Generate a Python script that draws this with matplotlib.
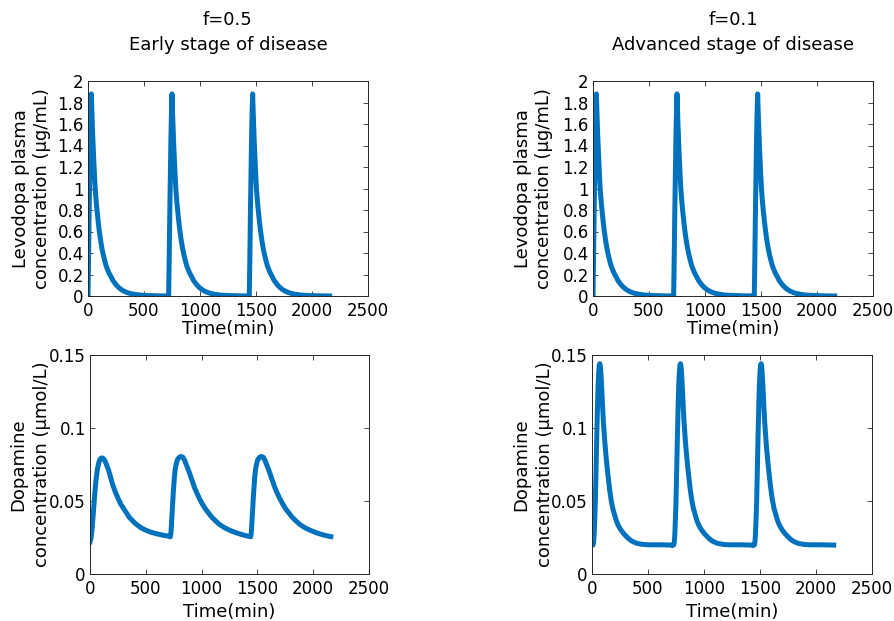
import numpy as np
import matplotlib
matplotlib.use('Agg')
import matplotlib.pyplot as plt

plt.rcParams.update({'font.size': 12})
plt.rcParams['font.family'] = ['DejaVu Sans']

dose_times = [0, 720, 1440]

# levodopa plasma concentration (ug/mL) after one dose, time since dose (min)
levo_rel_t = [0, 5, 10, 15, 20, 25, 30, 35, 40, 45, 50, 57, 64, 72, 80, 90, 100,
              112, 125, 137, 150, 162, 175, 187, 200, 225, 250, 275, 300, 325,
              350, 375, 400, 450, 500, 550, 600, 660, 718]
levo_rel_c = [0, 0.35, 0.75, 1.10, 1.45, 1.70, 1.88, 1.71, 1.56, 1.42, 1.30, 1.14,
              1.00, 0.89, 0.80, 0.70, 0.61, 0.52, 0.44, 0.38, 0.325, 0.28, 0.245,
              0.215, 0.19, 0.14, 0.105, 0.078, 0.058, 0.043, 0.032, 0.024, 0.018,
              0.010, 0.006, 0.004, 0.002, 0.001, 0.0]

# dopamine (umol/L), f=0.5: first dose from rest, then the repeated doses
dopa_early_first_t = [0, 8, 15, 20, 25, 30, 35, 40, 45, 52, 60, 67, 75, 82, 90, 97,
                      105, 112, 120, 130, 140, 152, 165, 180, 200, 225, 250, 275,
                      300, 325, 350, 375, 400, 425, 450, 475, 500, 550, 600, 650,
                      700, 718]
dopa_early_first_c = [0.022, 0.024, 0.028, 0.032, 0.037, 0.042, 0.047, 0.052, 0.057,
                      0.063, 0.068, 0.072, 0.075, 0.077, 0.0785, 0.0792, 0.0795,
                      0.0794, 0.079, 0.078, 0.0765, 0.074, 0.0715, 0.0675, 0.062,
                      0.0565, 0.052, 0.048, 0.045, 0.042, 0.039, 0.037, 0.035,
                      0.0335, 0.032, 0.031, 0.030, 0.0285, 0.0275, 0.0266, 0.026,
                      0.0255]
dopa_early_rel_t = [0, 5, 10, 18, 24, 30, 36, 42, 49, 55, 62, 70, 78, 85, 95, 105,
                    112, 120, 130, 142, 155, 172, 190, 215, 240, 265, 290, 315, 340,
                    365, 390, 415, 440, 465, 490, 540, 590, 640, 690, 718]
dopa_early_rel_c = [0.0255, 0.028, 0.034, 0.045, 0.053, 0.060, 0.066, 0.071, 0.074,
                    0.076, 0.078, 0.079, 0.0798, 0.0802, 0.0805, 0.0802, 0.080,
                    0.079, 0.0775, 0.075, 0.0725, 0.069, 0.065, 0.0595, 0.055,
                    0.051, 0.0475, 0.0445, 0.042, 0.0395, 0.0375, 0.0357, 0.034,
                    0.0327, 0.0315, 0.0297, 0.0282, 0.027, 0.026, 0.0256]

# dopamine (umol/L), f=0.1, time since dose (min)
dopa_adv_rel_t = [0, 10, 15, 20, 25, 30, 35, 40, 45, 50, 55, 60, 65, 70, 75, 80,
                  87, 95, 102, 110, 117, 125, 135, 145, 157, 170, 185, 200, 215,
                  230, 245, 260, 285, 310, 330, 350, 375, 400, 450, 500, 600, 718]
dopa_adv_rel_c = [0.0195, 0.020, 0.022, 0.028, 0.038, 0.050, 0.067, 0.085, 0.102,
                  0.118, 0.130, 0.138, 0.143, 0.144, 0.142, 0.137, 0.127, 0.114,
                  0.104, 0.095, 0.088, 0.081, 0.073, 0.066, 0.058, 0.051, 0.045,
                  0.041, 0.037, 0.034, 0.0318, 0.030, 0.0275, 0.0255, 0.024,
                  0.0228, 0.0218, 0.021, 0.0203, 0.020, 0.020, 0.0198]

x_ticks = [0, 500, 1000, 1500, 2000, 2500]
levo_ticks = [0, 0.2, 0.4, 0.6, 0.8, 1, 1.2, 1.4, 1.6, 1.8, 2]
levo_ticklabels = ['0', '0.2', '0.4', '0.6', '0.8', '1', '1.2', '1.4', '1.6', '1.8', '2']
dopa_ticks = [0, 0.05, 0.1, 0.15]
dopa_ticklabels = ['0', '0.05', '0.1', '0.15']

titles = ['f=0.5\nEarly stage of disease', 'f=0.1\nAdvanced stage of disease']
levo_label = 'Levodopa plasma\nconcentration (µg/mL)'
dopa_label = 'Dopamine\nconcentration (µmol/L)'

# stack the single-dose curves at each dosing time
levo_t = np.concatenate([np.array(levo_rel_t) + d for d in dose_times])
levo_c = np.tile(levo_rel_c, len(dose_times))

dopa_early_t = np.concatenate([dopa_early_first_t] +
                              [np.array(dopa_early_rel_t) + d for d in dose_times[1:]])
dopa_early_c = np.concatenate([dopa_early_first_c] +
                              [dopa_early_rel_c for d in dose_times[1:]])

dopa_adv_t = np.concatenate([np.array(dopa_adv_rel_t) + d for d in dose_times])
dopa_adv_c = np.tile(dopa_adv_rel_c, len(dose_times))

blue = '#0072BD'
axcol = '#262626'

fig = plt.figure(figsize=(8.95, 6.21), dpi=100)
W, H = 895, 621


def make_axes(x0, x1, y0, y1):
    # pixel box -> figure fraction
    return fig.add_axes([x0 / W, 1 - y1 / H, (x1 - x0) / W, (y1 - y0) / H])


def style(ax):
    for s in ax.spines.values():
        s.set_color(axcol)
        s.set_linewidth(0.7)
    ax.tick_params(direction='in', length=3.5, width=0.6, color=axcol,
                   top=True, right=True, labelsize=12, labelcolor='black')
    ax.tick_params(axis='x', pad=4)
    ax.tick_params(axis='y', pad=3)


ax_tl = make_axes(88, 368, 81, 296)
ax_tr = make_axes(593, 873, 81, 296)
ax_bl = make_axes(90, 369, 355, 574)
ax_br = make_axes(592, 872, 355, 574)

for ax, title, lx in [(ax_tl, titles[0], -0.132), (ax_tr, titles[1], -0.143)]:
    ax.plot(levo_t, levo_c, color=blue, lw=3.6, solid_joinstyle='round')
    ax.set_xlim(0, 2500)
    ax.set_ylim(0, 2)
    ax.set_xticks(x_ticks)
    ax.set_yticks(levo_ticks)
    ax.set_yticklabels(levo_ticklabels)
    ax.set_xlabel('Time(min)', fontsize=13, labelpad=0)
    ax.set_ylabel(levo_label, fontsize=13)
    ax.yaxis.set_label_coords(lx, 0.5)
    ax.set_title(title, fontsize=13, pad=22, linespacing=1.5)
    style(ax)

for ax, t, c, lx in [(ax_bl, dopa_early_t, dopa_early_c, -0.138),
                     (ax_br, dopa_adv_t, dopa_adv_c, -0.134)]:
    ax.plot(t, c, color=blue, lw=3.6, solid_joinstyle='round')
    ax.set_xlim(0, 2500)
    ax.set_ylim(0, 0.15)
    ax.set_xticks(x_ticks)
    ax.set_yticks(dopa_ticks)
    ax.set_yticklabels(dopa_ticklabels)
    ax.set_xlabel('Time(min)', fontsize=13, labelpad=4)
    ax.set_ylabel(dopa_label, fontsize=13, linespacing=1.45)
    ax.yaxis.set_label_coords(lx, 0.5)
    style(ax)

plt.savefig('out.png', dpi=100)
